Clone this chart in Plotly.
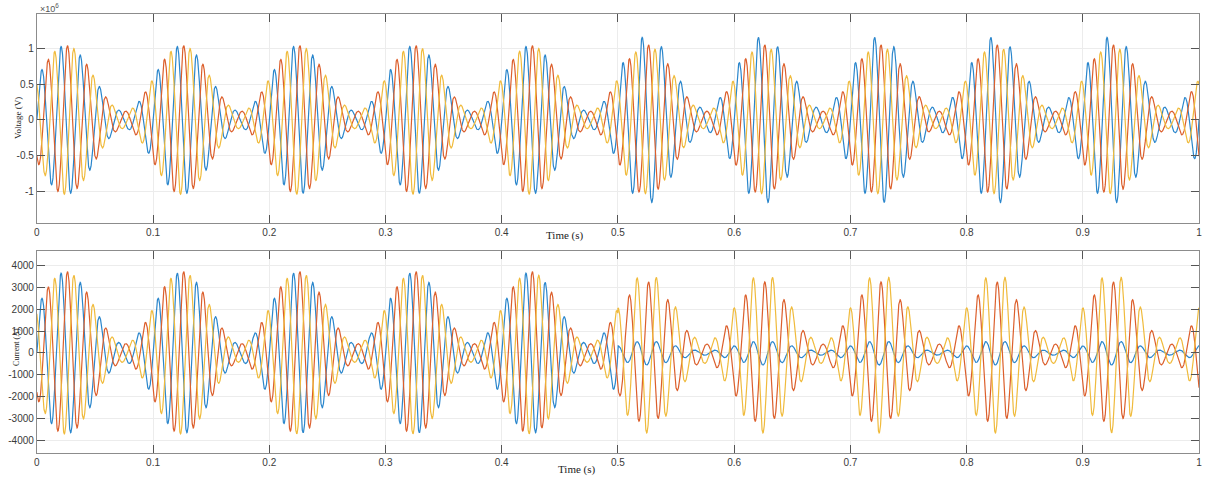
import numpy as np
import plotly.graph_objects as go

# ---- signal description (three-phase, 60 Hz carrier with a 10 Hz beat) ----
PHASES = ["A", "B", "C"]
COLORS = ["#2a86cc", "#dc5f2c", "#f0bb3c"]

CARRIER_HZ = 60.0
BEAT_HZ = 10.0
ENV_PEAK_TIME = 0.025       # first envelope maximum (s)
EVENT_TIME = 0.5            # disturbance instant (s)

# voltage envelope maxima / minima (V) and phase angles (deg), before and after the event
V_PEAK_PRE = [1.04e6, 1.04e6, 1.04e6]
V_TROUGH_PRE = [0.12e6, 0.12e6, 0.12e6]
V_PHASE_PRE = [0.0, -120.0, 120.0]
V_PEAK_POST = [1.17e6, 1.05e6, 1.03e6]
V_TROUGH_POST = [0.16e6, 0.12e6, 0.12e6]
V_PHASE_POST = [0.0, -120.0, 120.0]

# current envelope maxima / minima (A) and phase angles (deg)
I_PEAK_PRE = [3700.0, 3720.0, 3700.0]
I_TROUGH_PRE = [420.0, 420.0, 420.0]
I_PHASE_PRE = [0.0, -120.0, 120.0]
I_PEAK_POST = [550.0, 3250.0, 3650.0]
I_TROUGH_POST = [100.0, 400.0, 480.0]
I_PHASE_POST = [95.0, -120.0, 95.0]

V_TICKS = [-1.0e6, -0.5e6, 0.0, 0.5e6, 1.0e6]
V_TICK_TEXT = ["-1", "-0.5", "0", "0.5", "1"]
I_TICKS = [-4000, -3000, -2000, -1000, 0, 1000, 2000, 3000, 4000]
I_TICK_TEXT = ["-4000", "-3000", "-2000", "-1000", "0", "1000", "2000", "3000", "4000"]
T_TICKS = [0.0, 0.1, 0.2, 0.3, 0.4, 0.5, 0.6, 0.7, 0.8, 0.9, 1.0]
T_TICK_TEXT = ["0", "0.1", "0.2", "0.3", "0.4", "0.5", "0.6", "0.7", "0.8", "0.9", "1"]

t = np.linspace(0.0, 1.0, 8001)


def waveform(peak, trough, phase_deg, tt):
    mid = 0.5 * (peak + trough)
    half = 0.5 * (peak - trough)
    env = mid + half * np.cos(2 * np.pi * BEAT_HZ * (tt - ENV_PEAK_TIME))
    return env * np.sin(2 * np.pi * CARRIER_HZ * tt + np.deg2rad(phase_deg))


def phase_signal(k, pk_pre, tr_pre, ph_pre, pk_post, tr_post, ph_post):
    pre = waveform(pk_pre[k], tr_pre[k], ph_pre[k], t)
    post = waveform(pk_post[k], tr_post[k], ph_post[k], t)
    return np.where(t < EVENT_TIME, pre, post)


fig = go.Figure()
for k, name in enumerate(PHASES):
    v = phase_signal(k, V_PEAK_PRE, V_TROUGH_PRE, V_PHASE_PRE, V_PEAK_POST, V_TROUGH_POST, V_PHASE_POST)
    fig.add_trace(go.Scatter(x=t, y=v, mode="lines", name="V" + name,
                             line=dict(color=COLORS[k], width=1.2), xaxis="x", yaxis="y",
                             showlegend=False))
for k, name in enumerate(PHASES):
    i = phase_signal(k, I_PEAK_PRE, I_TROUGH_PRE, I_PHASE_PRE, I_PEAK_POST, I_TROUGH_POST, I_PHASE_POST)
    fig.add_trace(go.Scatter(x=t, y=i, mode="lines", name="I" + name,
                             line=dict(color=COLORS[k], width=1.2), xaxis="x2", yaxis="y2",
                             showlegend=False))

W, H = 1206, 477
x_dom = [34 / W, 1202 / W]
top_dom = [1 - 223 / H, 1 - 14 / H]
bot_dom = [1 - 453 / H, 1 - 251 / H]

tick_font = dict(family="Liberation Sans, Arial, sans-serif", size=10, color="#3a3a3a")
common_x = dict(range=[0, 1], domain=x_dom, tickvals=T_TICKS, ticktext=T_TICK_TEXT,
                showgrid=True, gridcolor="#ececec", gridwidth=1,
                showline=True, linecolor="#8c8c8c", linewidth=1, mirror="ticks",
                ticks="inside", ticklen=8, tickcolor="#555555", tickwidth=1,
                tickfont=tick_font, zeroline=False)
common_y = dict(showgrid=True, gridcolor="#ececec", gridwidth=1,
                showline=True, linecolor="#8c8c8c", linewidth=1, mirror="ticks",
                ticks="inside", ticklen=8, tickcolor="#555555", tickwidth=1,
                tickfont=tick_font, zeroline=False)

fig.update_layout(
    width=W, height=H,
    margin=dict(l=0, r=0, t=0, b=0),
    paper_bgcolor="white", plot_bgcolor="white",
    xaxis=dict(anchor="y", **common_x),
    yaxis=dict(domain=top_dom, range=[-1.44e6, 1.48e6], tickvals=V_TICKS,
               ticktext=V_TICK_TEXT, anchor="x", **common_y),
    xaxis2=dict(anchor="y2", **common_x),
    yaxis2=dict(domain=bot_dom, range=[-4570, 4660], tickvals=I_TICKS,
                ticktext=I_TICK_TEXT, anchor="x2", **common_y),
)

serif = "Liberation Serif, Times New Roman, serif"
ann = [
    dict(text="×10<sup>6</sup>", x=35 / W, y=1 - 8 / H, xanchor="left", yanchor="middle",
         font=dict(family="Liberation Sans, Arial, sans-serif", size=9, color="#555555")),
    dict(text="Voltage (V)", x=15 / W, y=1 - 118 / H, textangle=-90,
         xanchor="center", yanchor="middle", font=dict(family=serif, size=9, color="#222222")),
    dict(text="Current (A)", x=13 / W, y=1 - 347 / H, textangle=-90,
         xanchor="center", yanchor="middle", font=dict(family=serif, size=8, color="#222222")),
    dict(text="Time (s)", x=565 / W, y=1 - 236 / H, xanchor="center", yanchor="middle",
         font=dict(family=serif, size=11, color="#222222")),
    dict(text="Time (s)", x=577 / W, y=1 - 469 / H, xanchor="center", yanchor="middle",
         font=dict(family=serif, size=11, color="#222222")),
]
for a in ann:
    a.update(xref="paper", yref="paper", showarrow=False)
fig.update_layout(annotations=ann)

fig.write_html("out.html")
